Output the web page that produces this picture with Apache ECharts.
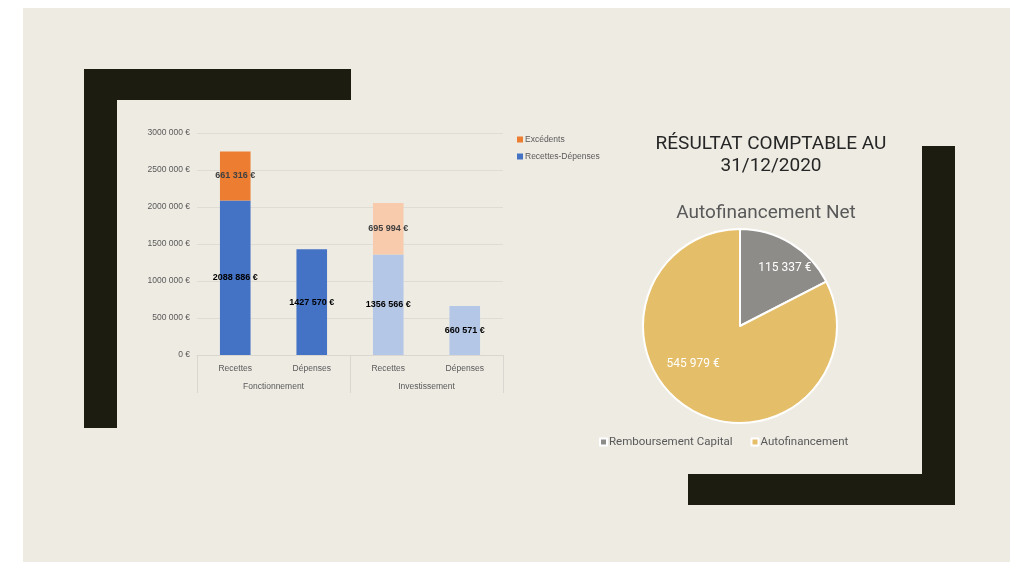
<!DOCTYPE html>
<html>
<head>
<meta charset="utf-8">
<script src="https://cdn.jsdelivr.net/npm/echarts@6/dist/echarts.min.js"></script>
<style>
  html, body { margin: 0; padding: 0; background: #fff; }
  #chart { width: 1010px; height: 562px; }
</style>
</head>
<body>
<div id="chart"></div>
<script>
// bar chart data
var groups = ['Fonctionnement', 'Investissement'];
var categories = ['Recettes', 'Dépenses', 'Recettes', 'Dépenses'];
var solde = [2088886, 1427570, 1356566, 660571];
var excedents = [661316, null, 695994, null];
var yTicks = { min: 0, max: 3000000, interval: 500000 };

// pie data
var pieNames = ['Remboursement Capital', 'Autofinancement'];
var pieValues = [115337, 545979];

var soldeColors = ['#4472C4', '#4472C4', '#B4C7E7', '#B4C7E7'];
var excColors = ['#ED7D31', '#ED7D31', '#F8CBAD', '#F8CBAD'];
var pieColors = ['#8D8C88', '#E4BE68'];

function euro(v) {
  var s = String(Math.round(v));
  if (s.length > 3) s = s.slice(0, -3) + ' ' + s.slice(-3);
  return s + ' €';
}

var chart = echarts.init(document.getElementById('chart'));
chart.setOption({
  animation: false,
  textStyle: { fontFamily: 'Liberation Sans, Arial, sans-serif' },
  graphic: [
    { type: 'rect', z: -10, shape: { x: 23, y: 8, width: 987, height: 554 }, style: { fill: '#EEEBE3' } },
    { type: 'rect', z: -9, shape: { x: 84, y: 69, width: 267, height: 31 }, style: { fill: '#1C1D10' } },
    { type: 'rect', z: -9, shape: { x: 84, y: 69, width: 33, height: 359 }, style: { fill: '#1C1D10' } },
    { type: 'rect', z: -9, shape: { x: 922, y: 146, width: 33, height: 359 }, style: { fill: '#1C1D10' } },
    { type: 'rect', z: -9, shape: { x: 688, y: 474, width: 267, height: 31 }, style: { fill: '#1C1D10' } }
  ],
  title: [
    {
      text: 'RÉSULTAT COMPTABLE AU\n31/12/2020',
      left: 766, top: 128, textAlign: 'center',
      textStyle: { fontSize: 19, fontWeight: 'normal', color: '#262626', lineHeight: 22, fontFamily: 'Roboto, sans-serif' }
    },
    {
      text: 'Autofinancement Net',
      left: 761, top: 199, textAlign: 'center',
      textStyle: { fontSize: 19, fontWeight: 'normal', color: '#595959', fontFamily: 'Roboto, sans-serif' }
    }
  ],
  legend: [
    {
      data: ['Excédents', 'Recettes-Dépenses'],
      orient: 'vertical', left: 512, top: 130,
      itemWidth: 6, itemHeight: 6, itemGap: 8, icon: 'rect',
      textStyle: { fontSize: 8.5, color: '#595959', padding: [0, 0, 0, -3] }
    },
    {
      data: pieNames,
      left: 594, top: 431,
      itemWidth: 7, itemHeight: 7, itemGap: 18, icon: 'rect',
      textStyle: { fontSize: 11.5, color: '#595959', fontFamily: 'Roboto, sans-serif', padding: [0, 0, 0, -3] }
    }
  ],
  grid: { left: 197, right: 507, top: 133, bottom: 207 },
  xAxis: [
    {
      type: 'category', data: categories,
      axisLine: { lineStyle: { color: '#D9D7D0' } },
      axisTick: { show: false },
      axisLabel: { fontSize: 8.5, color: '#595959', margin: 9 }
    },
    {
      type: 'category', data: groups, position: 'bottom',
      axisLine: { show: false },
      axisTick: { show: true, length: 38, lineStyle: { color: '#D9D7D0' } },
      axisLabel: { fontSize: 8.5, color: '#595959', margin: 27 }
    }
  ],
  yAxis: {
    type: 'value', min: yTicks.min, max: yTicks.max, interval: yTicks.interval,
    axisLine: { show: false }, axisTick: { show: false },
    splitLine: { lineStyle: { color: '#DEDCD5' } },
    axisLabel: { fontSize: 8.5, color: '#595959', margin: 7, formatter: euro }
  },
  series: [
    {
      name: 'Recettes-Dépenses', type: 'bar', stack: 'tot', barWidth: '40%',
      itemStyle: { color: '#4472C4' },
      data: solde.map(function (v, i) { return { value: v, itemStyle: { color: soldeColors[i] } }; }),
      label: {
        show: true, position: 'inside', fontSize: 9, fontWeight: 'bold', color: '#000',
        formatter: function (p) { return euro(p.value); }
      }
    },
    {
      name: 'Excédents', type: 'bar', stack: 'tot', barWidth: '40%',
      itemStyle: { color: '#ED7D31' },
      data: excedents.map(function (v, i) { return { value: v, itemStyle: { color: excColors[i] } }; }),
      label: {
        show: true, position: 'inside', fontSize: 9, fontWeight: 'bold', color: '#404040',
        formatter: function (p) { return euro(p.value); }
      }
    },
    {
      name: 'Autofinancement Net', type: 'pie',
      center: [740, 326], radius: [0, 97], startAngle: 90, clockwise: true,
      color: pieColors,
      itemStyle: { borderColor: '#fff', borderWidth: 2 },
      data: pieNames.map(function (n, i) { return { name: n, value: pieValues[i] }; }),
      label: {
        show: true, position: 'inside', fontSize: 12, color: '#fff',
        fontFamily: 'Roboto, sans-serif',
        formatter: function (p) { return euro(p.value); }
      },
      labelLayout: function (p) {
        return p.dataIndex === 0 ? { dx: 18, dy: -14 } : { dx: -20, dy: -6 };
      }
    }
  ]
});
</script>
</body>
</html>
